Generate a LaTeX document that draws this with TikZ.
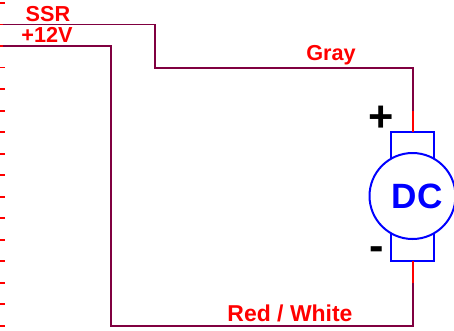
\documentclass[tikz,border=0pt]{standalone}
\usepackage{fontspec}
\setmainfont{Liberation Sans}
\definecolor{wirepurple}{RGB}{128,0,64}
\tikzset{
	wire/.style={wirepurple,line width=1.7pt},
	lead/.style={red,line width=1.7pt},
	motor/.style={blue,line width=1.7pt},
	wirelabel/.style={red,anchor=base,inner sep=0pt,font=\fontsize{18.5}{18.5}\selectfont\bfseries},
	polarity/.style={black,anchor=base,inner sep=0pt,font=\fontsize{37}{37}\selectfont\bfseries}
}

\begin{document}
\begin{tikzpicture}[x=0.03cm,y=-0.03cm]
		\useasboundingbox (0,0) rectangle (454,330);
		% pins along the left edge
		\foreach \y in {3,24.5,46,67.5,89,110.5,132,153.5,175,196.5,218,239.5,261,282.5,304,325.5}
			\draw[lead] (0,\y) -- (5,\y);
		% points on the wires
		\coordinate (ssrstart) at (3,24.5);
		\coordinate (ssrdrop) at (155,24.5);
		\coordinate (ssrturn) at (155,68);
		\coordinate (grayturn) at (413,68);
		\coordinate (plusend) at (413,111);
		\coordinate (plusterm) at (413,132);
		\coordinate (vccstart) at (3,46);
		\coordinate (vccdrop) at (111,46);
		\coordinate (vccturn) at (111,326);
		\coordinate (whiteturn) at (413,326);
		\coordinate (minusend) at (413,283);
		\coordinate (minusterm) at (413,261);
		% motor
		\draw[motor] (391,158) -- (391,132) -- (434,132) -- (434,158);
		\draw[motor] (391,234) -- (391,261) -- (434,261) -- (434,234);
		\node[motor,draw,circle,fill=white,minimum size=86*0.03cm,inner sep=0pt] (dc) at (412.5,196) {};
		\node[blue,inner sep=0pt,font=\fontsize{30}{30}\selectfont\bfseries] (dclabel) at (417,196) {DC};
		% wires
		\draw[wire] (ssrstart) -- (ssrdrop) -- (ssrturn) -- (grayturn) -- (plusend);
		\draw[lead] (plusend) -- (plusterm);
		\draw[wire] (vccstart) -- (vccdrop) -- (vccturn) -- (whiteturn) -- (minusend);
		\draw[lead] (minusend) -- (minusterm);
		% labels
		\node[wirelabel] (ssr) at (48,21) {SSR};
		\node[wirelabel] (vcc) at (47,42) {+12V};
		\node[wirelabel] (gray) at (331,60) {Gray};
		\node[wirelabel,font=\fontsize{19.6}{19.6}\selectfont\bfseries] (redwhite) at (290,321) {Red / White};
		\node[polarity] (plus) at (381,131) {+};
		\node[polarity] (minus) at (377,260) {-};
	\end{tikzpicture}
\end{document}
